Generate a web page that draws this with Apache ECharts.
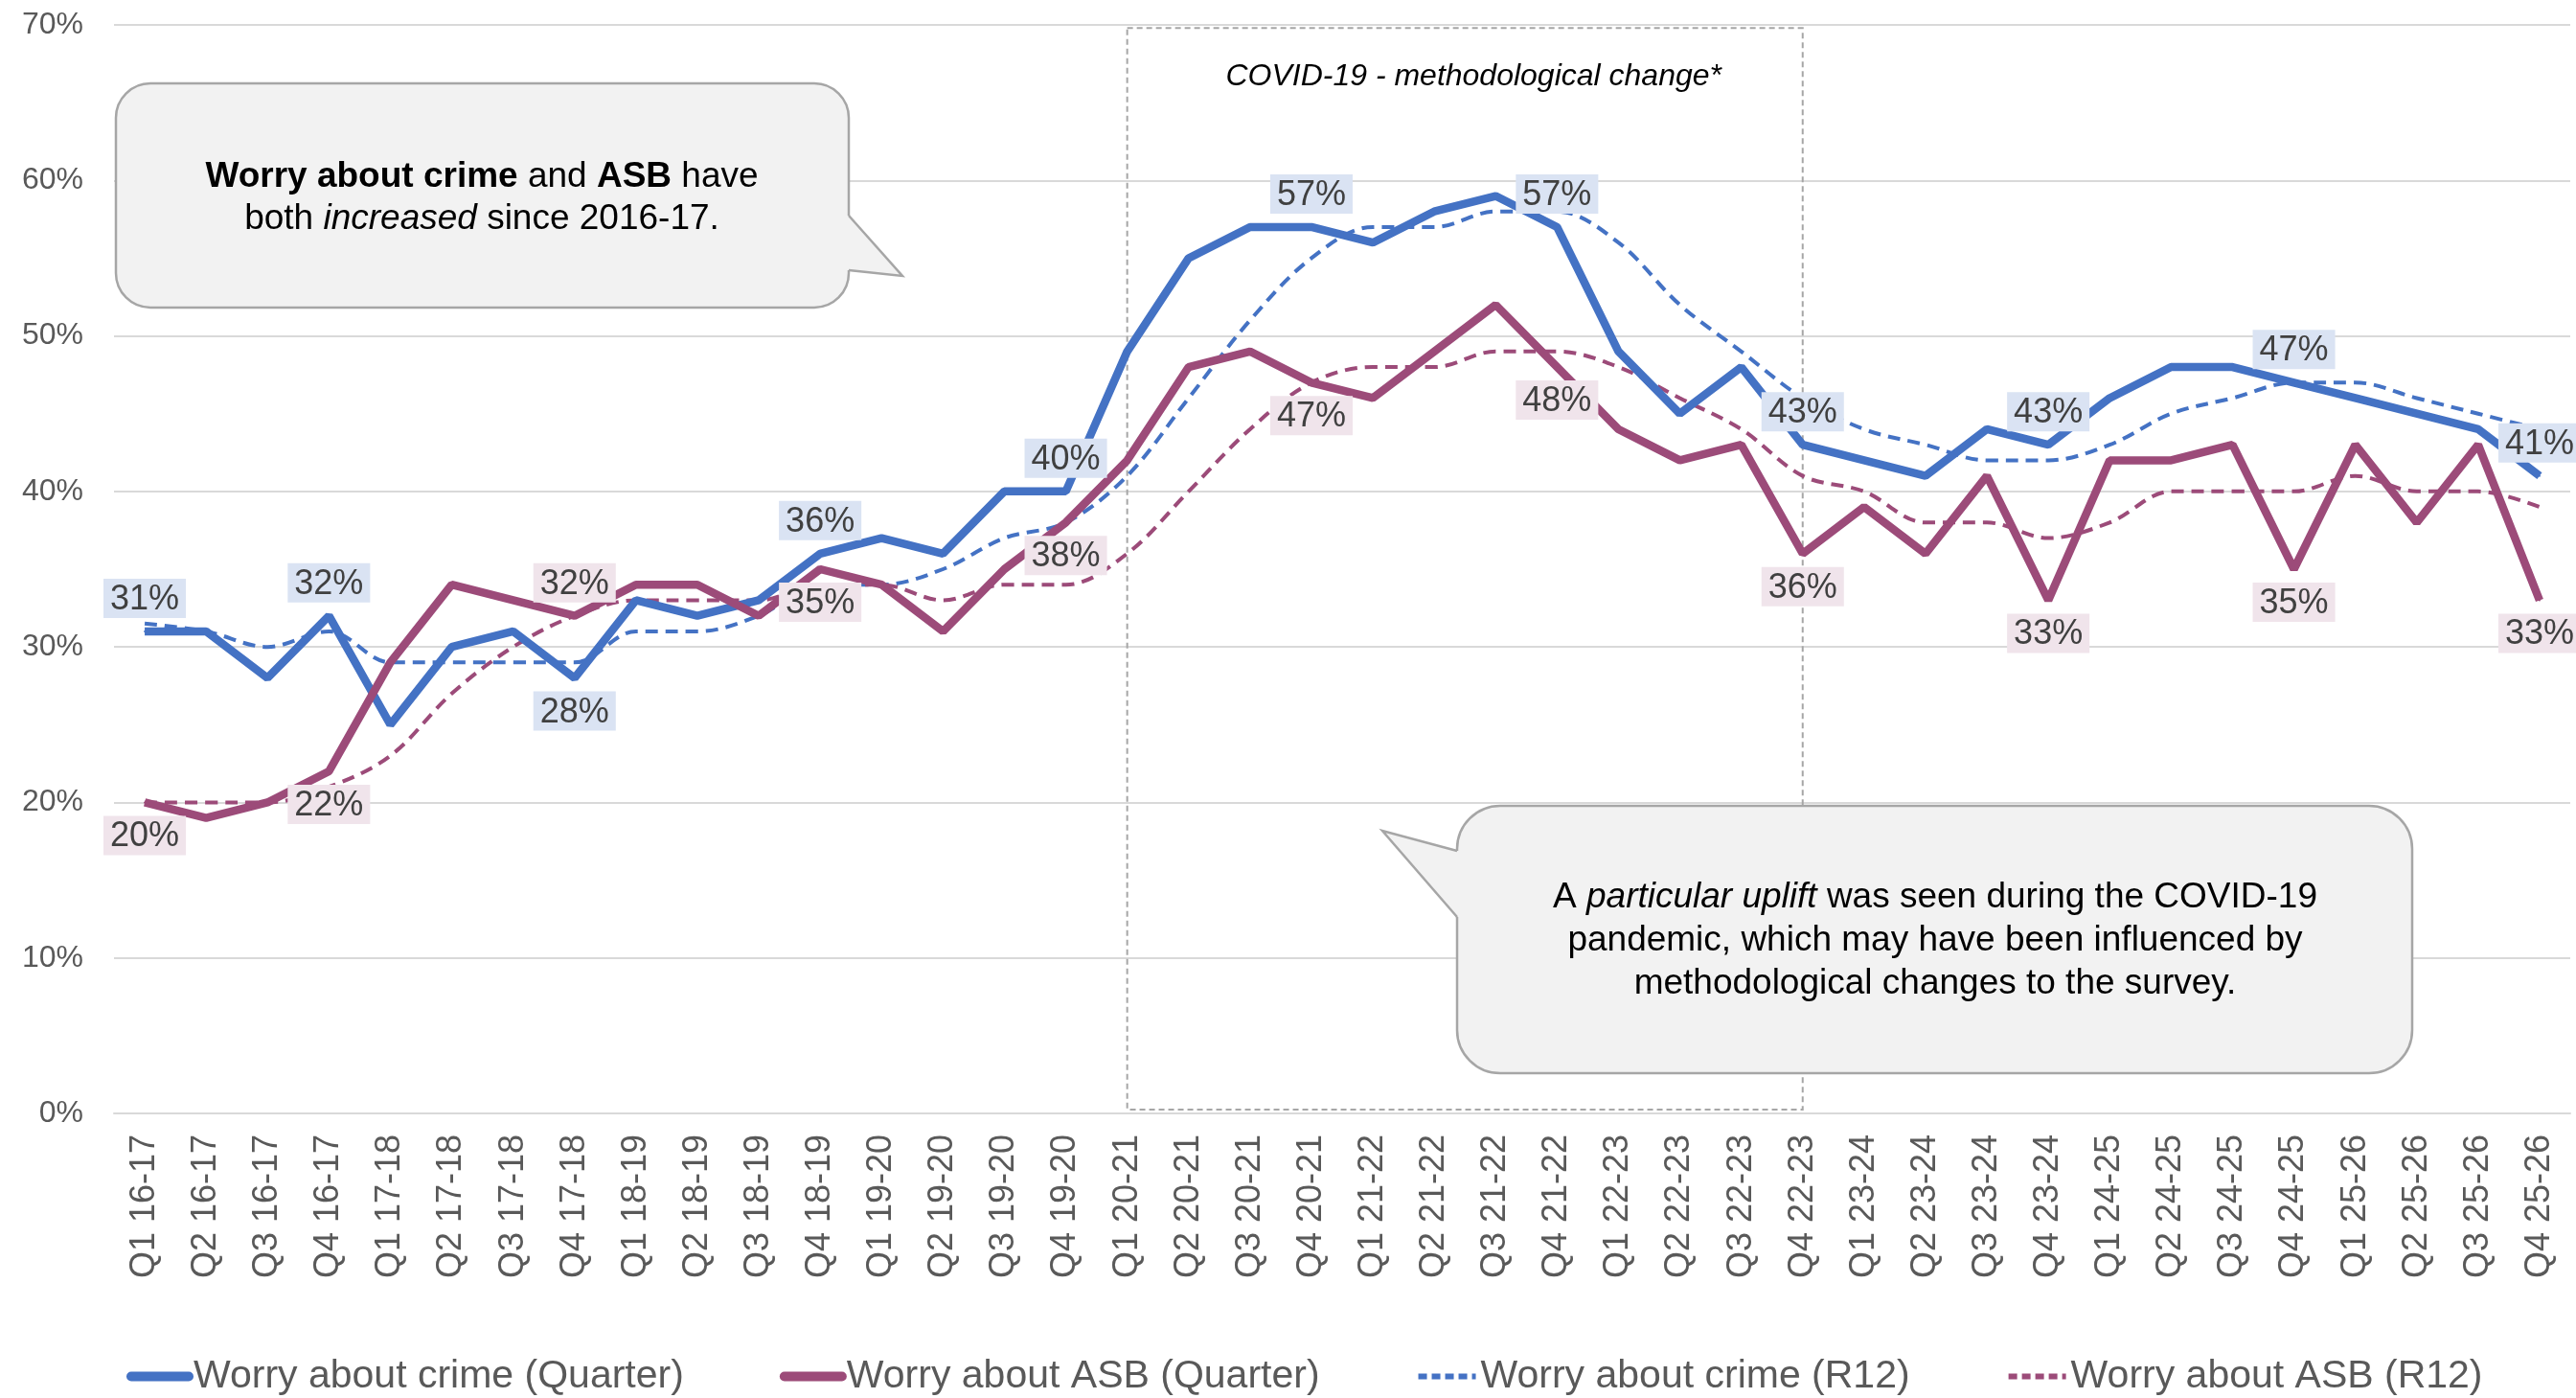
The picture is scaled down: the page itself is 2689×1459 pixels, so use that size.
<!DOCTYPE html>
<html>
<head>
<meta charset="utf-8">
<script src="https://cdn.jsdelivr.net/npm/echarts@6/dist/echarts.min.js"></script>
<style>
  html, body { margin: 0; padding: 0; background: #fff; }
  #chart { width: 2689px; height: 1459px; }
</style>
</head>
<body>
<div id="chart"></div>
<script>
const FONT = '"Liberation Sans", Arial, sans-serif';

const categories = [
  'Q1 16-17', 'Q2 16-17', 'Q3 16-17', 'Q4 16-17',
  'Q1 17-18', 'Q2 17-18', 'Q3 17-18', 'Q4 17-18',
  'Q1 18-19', 'Q2 18-19', 'Q3 18-19', 'Q4 18-19',
  'Q1 19-20', 'Q2 19-20', 'Q3 19-20', 'Q4 19-20',
  'Q1 20-21', 'Q2 20-21', 'Q3 20-21', 'Q4 20-21',
  'Q1 21-22', 'Q2 21-22', 'Q3 21-22', 'Q4 21-22',
  'Q1 22-23', 'Q2 22-23', 'Q3 22-23', 'Q4 22-23',
  'Q1 23-24', 'Q2 23-24', 'Q3 23-24', 'Q4 23-24',
  'Q1 24-25', 'Q2 24-25', 'Q3 24-25', 'Q4 24-25',
  'Q1 25-26', 'Q2 25-26', 'Q3 25-26', 'Q4 25-26'
];

// worry about crime, quarterly
const crimeQuarter = [31, 31, 28, 32, 25, 30, 31, 28, 33, 32, 33, 36, 37, 36, 40, 40,
  49, 55, 57, 57, 56, 58, 59, 57, 49, 45, 48, 43, 42, 41, 44, 43, 46, 48, 48, 47, 46, 45, 44, 41];
// worry about ASB, quarterly
const asbQuarter = [20, 19, 20, 22, 29, 34, 33, 32, 34, 34, 32, 35, 34, 31, 35, 38,
  42, 48, 49, 47, 46, 49, 52, 48, 44, 42, 43, 36, 39, 36, 41, 33, 42, 42, 43, 35, 43, 38, 43, 33];
// rolling 12 months
const crimeR12 = [31.5, 31, 30, 31, 29, 29, 29, 29, 31, 31, 32, 34, 34, 35, 37, 38,
  41, 46, 51, 55, 57, 57, 58, 58, 56, 52, 49, 46, 44, 43, 42, 42, 43, 45, 46, 47, 47, 46, 45, 44];
const asbR12 = [20, 20, 20, 21, 23, 27, 30, 32, 33, 33, 33, 34, 34, 33, 34, 34,
  36, 40, 44, 47, 48, 48, 49, 49, 48, 46, 44, 41, 40, 38, 38, 37, 38, 40, 40, 40, 41, 40, 40, 39];

const yTicks = [0, 10, 20, 30, 40, 50, 60, 70];

// which points carry a data label, and where
const crimeLabelAt = { 0: 'top', 3: 'top', 7: 'bottom', 11: 'top', 15: 'top', 19: 'top',
  23: 'top', 27: 'top', 31: 'top', 35: 'top', 39: 'top' };
const asbLabelAt = { 0: 'bottom', 3: 'bottom', 7: 'top', 11: 'bottom', 15: 'bottom', 19: 'bottom',
  23: 'bottom', 27: 'bottom', 31: 'bottom', 35: 'bottom', 39: 'bottom' };

const BLUE = '#4472C4';
const PURPLE = '#9C4B79';

function buildData(values, labelAt, bg) {
  return values.map((v, i) => {
    if (!labelAt[i]) return v;
    return {
      value: v,
      symbol: 'circle',
      symbolSize: 2,
      label: { show: true, position: labelAt[i], backgroundColor: bg }
    };
  });
}

const pointLabel = {
  show: false,
  formatter: '{c}%',
  fontFamily: FONT,
  fontSize: 36,
  color: '#404040',
  padding: [4, 7, 1, 7],
  distance: 13
};

function bubble(box, tail, fillTail, text) {
  return [
    {
      type: 'rect', z: 10,
      shape: { x: box[0], y: box[1], width: box[2], height: box[3], r: box[4] },
      style: { fill: '#F2F2F2', stroke: '#A6A6A6', lineWidth: 2.5 }
    },
    {
      type: 'polygon', z: 11,
      shape: { points: fillTail },
      style: { fill: '#F2F2F2', stroke: null }
    },
    {
      type: 'polyline', z: 12,
      shape: { points: tail },
      style: { stroke: '#A6A6A6', lineWidth: 2.5, fill: null }
    },
    text
  ];
}

const bubbleText = (x, y, str, lh) => ({
  type: 'text', z: 13, x: x, y: y,
  style: {
    text: str,
    fontFamily: FONT,
    fontSize: 37,
    fill: '#000',
    lineHeight: lh,
    align: 'center',
    verticalAlign: 'middle',
    rich: {
      b: { fontFamily: FONT, fontSize: 37, fontWeight: 'bold', fill: '#000', lineHeight: lh },
      i: { fontFamily: FONT, fontSize: 37, fontStyle: 'italic', fill: '#000', lineHeight: lh }
    }
  }
});

const hiddenSymbol = { opacity: 0 };

const chart = echarts.init(document.getElementById('chart'));

const option = {
  animation: false,
  backgroundColor: '#fff',
  grid: { left: 119, right: 6, top: 26, bottom: 297, containLabel: false, outerBoundsMode: 'none' },
  legend: {
    left: 127,
    top: 1411,
    orient: 'horizontal',
    itemWidth: 60,
    itemHeight: 14,
    itemGap: 100,
    textStyle: { fontFamily: FONT, fontSize: 41, color: '#595959' },
    data: [
      { name: 'Worry about crime (Quarter)', itemStyle: hiddenSymbol, lineStyle: { width: 10, cap: 'round' } },
      { name: 'Worry about ASB (Quarter)', itemStyle: hiddenSymbol, lineStyle: { width: 10, cap: 'round' } },
      { name: 'Worry about crime (R12)', itemStyle: hiddenSymbol, lineStyle: { width: 6, type: [9, 5] } },
      { name: 'Worry about ASB (R12)', itemStyle: hiddenSymbol, lineStyle: { width: 6, type: [9, 5] } }
    ]
  },
  xAxis: {
    type: 'category',
    data: categories,
    boundaryGap: true,
    axisTick: { show: false },
    axisLine: { show: true, lineStyle: { color: '#D9D9D9', width: 2 } },
    axisLabel: { rotate: 90, interval: 0, margin: 22, fontFamily: FONT, fontSize: 36, color: '#595959' },
    splitLine: { show: false }
  },
  yAxis: {
    type: 'value',
    min: yTicks[0],
    max: yTicks[yTicks.length - 1],
    interval: 10,
    axisLine: { show: false },
    axisTick: { show: false },
    axisLabel: { formatter: '{value}%', margin: 32, fontFamily: FONT, fontSize: 32, color: '#595959' },
    splitLine: { show: true, lineStyle: { color: '#D9D9D9', width: 2 } }
  },
  graphic: {
    elements: [
      ...bubble(
        [121, 87, 765, 234, 36],
        [[886, 225], [942, 288], [886, 282]],
        [[881, 225], [886, 225], [942, 288], [886, 282], [881, 282]],
        bubbleText(503, 207, '{b|Worry about crime} and {b|ASB} have\nboth {i|increased} since 2016-17.', 44)
      ),
      ...bubble(
        [1521, 841, 997, 279, 45],
        [[1521, 957], [1443, 867], [1521, 888]],
        [[1526, 957], [1521, 957], [1443, 867], [1521, 888], [1526, 888]],
        bubbleText(2020, 982, 'A {i|particular uplift} was seen during the COVID-19\npandemic, which may have been influenced by\nmethodological changes to the survey.', 45)
      )
    ]
  },
  series: [
    {
      name: 'Worry about crime (Quarter)',
      type: 'line',
      z: 4,
      data: buildData(crimeQuarter, crimeLabelAt, '#DAE3F3'),
      symbol: 'none',
      showAllSymbol: true,
      lineStyle: { color: BLUE, width: 8.5 },
      itemStyle: { color: BLUE },
      label: pointLabel,
      markArea: {
        silent: true,
        itemStyle: { color: 'rgba(0,0,0,0)', borderColor: '#A6A6A6', borderWidth: 2, borderType: [6, 4] },
        label: {
          show: true,
          position: 'insideTop',
          offset: [9, 31],
          fontFamily: FONT,
          fontSize: 32,
          fontStyle: 'italic',
          color: '#000'
        },
        data: [[
          { name: 'COVID-19 - methodological change*', xAxis: 'Q1 20-21', yAxis: 69.8 },
          { xAxis: 'Q4 22-23', yAxis: 0.25 }
        ]]
      }
    },
    {
      name: 'Worry about ASB (Quarter)',
      type: 'line',
      z: 4,
      data: buildData(asbQuarter, asbLabelAt, '#F0E4EB'),
      symbol: 'none',
      showAllSymbol: true,
      lineStyle: { color: PURPLE, width: 8.5 },
      itemStyle: { color: PURPLE },
      label: pointLabel
    },
    {
      name: 'Worry about crime (R12)',
      type: 'line',
      z: 3,
      data: crimeR12,
      symbol: 'none',
      smooth: 0.35,
      lineStyle: { color: BLUE, width: 4, type: [13, 8] },
      itemStyle: { color: BLUE }
    },
    {
      name: 'Worry about ASB (R12)',
      type: 'line',
      z: 3,
      data: asbR12,
      symbol: 'none',
      smooth: 0.35,
      lineStyle: { color: PURPLE, width: 4, type: [13, 8] },
      itemStyle: { color: PURPLE }
    }
  ]
};

chart.setOption(option);

window.addEventListener('resize', function () {
  chart.resize();
});
</script>
</body>
</html>
